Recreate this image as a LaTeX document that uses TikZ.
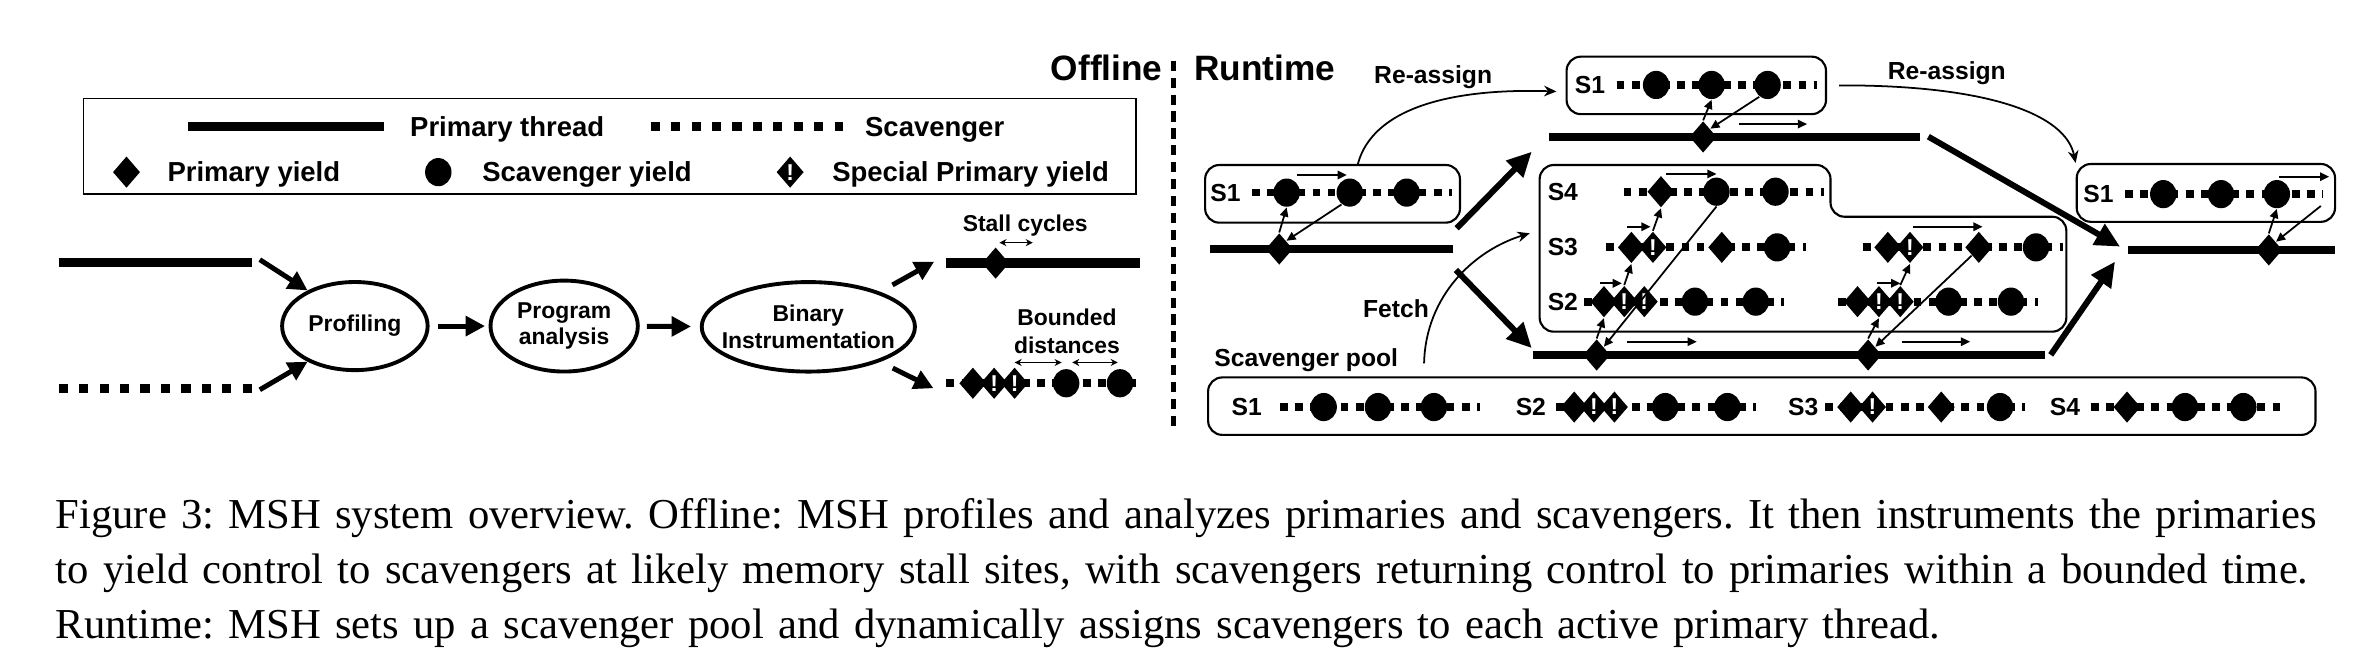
\documentclass[tikz,border=0pt]{standalone}
\usepackage{fontspec}
\setmainfont{Liberation Serif}
\setsansfont{Liberation Sans}
\usetikzlibrary{arrows.meta,shapes.geometric}

\begin{document}
\begin{tikzpicture}[x=0.4303pt, y=-0.4303pt,
    prim/.style={line width=2.4pt},
    primo/.style={line width=2.7pt},
    scav/.style={line width=2.2pt, dash pattern=on 2.2pt off 2.1pt},
    scavo/.style={line width=2.6pt, dash pattern=on 2.6pt off 3.2pt},
    pyield/.style={diamond, fill=black, inner sep=0pt, minimum width=7.8pt, minimum height=9pt},
    syield/.style={ellipse, fill=black, inner sep=0pt, minimum width=7.5pt, minimum height=8pt},
    spyield/.style={pyield, label={[text=white, inner sep=0pt, font=\sffamily\bfseries\fontsize{6.5pt}{6.5pt}\selectfont]center:!}},
    stage/.style={ellipse, draw, line width=1.1pt, inner sep=0pt},
    sbox/.style={draw, line width=0.6pt, rounded corners=4pt, inner sep=0pt},
    biglbl/.style={font=\sffamily\bfseries\fontsize{10pt}{12pt}\selectfont, inner sep=0pt},
    leglbl/.style={font=\sffamily\bfseries\fontsize{7.8pt}{9pt}\selectfont, inner sep=0pt, anchor=base west},
    smlbl/.style={font=\sffamily\bfseries\fontsize{6.5pt}{7.5pt}\selectfont, inner sep=0pt, align=center},
    rtlbl/.style={font=\sffamily\bfseries\fontsize{7pt}{8pt}\selectfont, inner sep=0pt},
    bigarr/.style={line width=1.4pt, -{Triangle[length=5.5pt, width=5.5pt]}},
    fatarr/.style={line width=1.7pt, -{Triangle[length=7pt, width=6.5pt]}},
    tarr/.style={line width=0.5pt, -{Triangle[length=2.6pt, width=2.4pt]}},
    curv/.style={line width=0.5pt, -{Stealth[length=3.5pt, width=3pt]}},
    dist/.style={line width=0.4pt, {Stealth[length=2pt, width=2pt]}-{Stealth[length=2pt, width=2pt]}}
  ]
  \useasboundingbox (0,0) rectangle (1568,437);

  % legend
  \draw[line width=0.5pt] (55,65) rectangle (749,128);
  \draw[primo] (124,83.3) -- (253,83.3);
  \node[leglbl] (kpt) at (270,89.8) {Primary thread};
  \draw[scavo] (429,83.3) -- (556,83.3);
  \node[leglbl] (kst) at (570,89.8) {Scavenger};
  \node[pyield] (kp) at (83.4,113.5) {};
  \node[leglbl] (kpl) at (110,120) {Primary yield};
  \node[syield] (ks) at (289,113.5) {};
  \node[leglbl] (ksl) at (317.6,120) {Scavenger yield};
  \node[spyield] (kx) at (521,113.5) {};
  \node[leglbl] (kxl) at (548.3,120) {Special Primary yield};

  % offline flow
  \coordinate (pin0) at (38.7,173.2);
  \coordinate (pin1) at (166.3,173.2);
  \coordinate (sin0) at (38.7,256);
  \coordinate (sin1) at (166.3,256);
  \draw[primo] (pin0) -- (pin1);
  \draw[scavo] (sin0) -- (sin1);
  \node[stage, minimum width=41.3pt, minimum height=25pt] (prof) at (234,215) {};
  \node[smlbl] (profl) at (prof) {Profiling};
  \node[stage, minimum width=41.8pt, minimum height=25.8pt] (prog) at (372,215) {};
  \node[smlbl] (progl) at (prog) {Program\\analysis};
  \node[stage, minimum width=60.5pt, minimum height=25.4pt] (bin) at (533,215.5) {};
  \node[smlbl] (binl) at (bin) {Binary\\Instrumentation};
  \draw[bigarr] ([shift={(5,-2)}]pin1) -- (prof.143);
  \draw[bigarr] ([shift={(5,1)}]sin1) -- (prof.217);
  \draw[bigarr, shorten <=2.5pt, shorten >=1pt] (prof) -- (prog);
  \draw[bigarr, shorten <=2pt, shorten >=2.5pt] (prog) -- (bin);

  \coordinate (pout0) at (624,173.5);
  \coordinate (pout1) at (752,173.5);
  \coordinate (sout0) at (624,252.7);
  \coordinate (sout1) at (752,252.7);
  \draw[bigarr, shorten <=4pt] (bin.26) -- ([shift={(-8,-1)}]pout0);
  \draw[bigarr, shorten <=4pt] (bin.-26) -- ([shift={(-8.5,3.3)}]sout0);
  \draw[primo] (pout0) -- (pout1);
  \node[pyield] (od) at (656.5,173.5) {};
  \node[smlbl, anchor=base] (stl) at (676,152.4) {Stall cycles};
  \coordinate (st0) at (659,160);
  \coordinate (st1) at (681,160);
  \draw[dist] (st0) -- (st1);
  \draw[scav] (sout0) -- (sout1);
  \node[pyield] (oa) at (641.5,252.7) {};
  \node[spyield] (ob) at (655.5,252.7) {};
  \node[spyield] (oc) at (669,252.7) {};
  \node[syield] (oe) at (703,252.7) {};
  \node[syield] (of) at (738.5,252.7) {};
  \node[smlbl, anchor=base] (bdl) at (703.5,214.4) {Bounded};
  \node[smlbl, anchor=base] (dsl) at (703.5,232.9) {distances};
  \coordinate (bd0) at (669,239);
  \coordinate (bd1) at (700,239);
  \coordinate (bd2) at (707,239);
  \coordinate (bd3) at (737,239);
  \draw[dist] (bd0) -- (bd1);
  \draw[dist] (bd2) -- (bd3);

  % divider
  \draw[line width=1.5pt, dash pattern=on 2.9pt off 1.9pt] (774,40) -- (774,282);
  \node[biglbl, anchor=east] (offl) at (767,45) {Offline};
  \node[biglbl, anchor=west] (runl) at (787,45) {Runtime};

  % runtime: left S1
  \node[sbox, minimum width=72.3pt, minimum height=16.35pt] (lbox) at (878.65,127.8) {};
  \node[rtlbl] (ls) at (808,127) {S1};
  \draw[scav] (825.5,127) -- (957.5,127);
  \node[syield] (la) at (848.4,127) {};
  \node[syield] (lb) at (890,127) {};
  \node[syield] (lc) at (927.5,127) {};
  \draw[prim] (798,164.2) -- (958,164.2);
  \node[pyield] (lp) at (843.5,164.2) {};
  \draw[tarr] (lp.north) -- (la.south);
  \draw[tarr] (lb.235) -- (lp.north east);
  \coordinate (lt0) at (855,115.4);
  \coordinate (lt1) at (888,115.4);
  \draw[tarr] (lt0) -- (lt1);

  % runtime: top S1
  \node[sbox, minimum width=73.6pt, minimum height=16.3pt] (tbox) at (1118.5,56.3) {};
  \node[rtlbl] (ts) at (1048.4,56) {S1};
  \draw[scav] (1066,56) -- (1198,56);
  \node[syield] (ta) at (1092,56) {};
  \node[syield] (tb) at (1128.6,56) {};
  \node[syield] (tc) at (1165.5,56) {};
  \draw[prim] (1021.5,90.3) -- (1266,90.3);
  \node[pyield] (tp) at (1123,90.3) {};
  \draw[tarr] (tp.north) -- (tb.south);
  \draw[tarr] (tc.235) -- (tp.north east);
  \coordinate (tt0) at (1146.6,81.8);
  \coordinate (tt1) at (1191.5,81.8);
  \draw[tarr] (tt0) -- (tt1);

  % runtime: S2-S4 group
  \draw[line width=0.6pt, rounded corners=4pt] (1015.2,108.8) -- (1207,108.8) -- (1207,142.9) -- (1362.5,142.9)
    -- (1362.5,218.7) -- (1015.2,218.7) -- cycle;
  \node[rtlbl] (s4) at (1030.5,126.4) {S4};
  \node[rtlbl] (s3) at (1030.5,163.1) {S3};
  \node[rtlbl] (s2) at (1030.5,198.9) {S2};
  \draw[scav] (1070.6,126.4) -- (1202.4,126.4);
  \node[pyield] (m4a) at (1095.2,126.4) {};
  \node[syield] (m4b) at (1131.8,126.4) {};
  \node[syield] (m4c) at (1170.7,126.4) {};
  \draw[scav] (1058.8,163.1) -- (1190.6,163.1);
  \node[pyield] (m3a) at (1075.7,163.1) {};
  \node[spyield] (m3b) at (1089.9,163.1) {};
  \node[pyield] (m3c) at (1135.3,163.1) {};
  \node[syield] (m3d) at (1171.8,163.1) {};
  \draw[scav] (1044.6,198.9) -- (1176.5,198.9);
  \node[pyield] (m2a) at (1057.6,198.9) {};
  \node[spyield] (m2b) at (1071,198.9) {};
  \node[spyield] (m2c) at (1084.2,198.9) {};
  \node[syield] (m2d) at (1117.6,198.9) {};
  \node[syield] (m2e) at (1157.7,198.9) {};
  \draw[scav] (1228.3,163.1) -- (1360.2,163.1);
  \node[pyield] (n3a) at (1244.8,163.1) {};
  \node[spyield] (n3b) at (1259.4,163.1) {};
  \node[pyield] (n3c) at (1304.8,163.1) {};
  \node[syield] (n3d) at (1342.5,163.1) {};
  \draw[scav] (1211.8,198.9) -- (1343.7,198.9);
  \node[pyield] (n2a) at (1224.8,198.9) {};
  \node[spyield] (n2b) at (1238.9,198.9) {};
  \node[spyield] (n2c) at (1253,198.9) {};
  \node[syield] (n2d) at (1284.8,198.9) {};
  \node[syield] (n2e) at (1326,198.9) {};
  \draw[prim] (1010.6,234.1) -- (1348.5,234.1);
  \node[pyield] (mp) at (1052.8,234.1) {};
  \node[pyield] (np) at (1231.8,234.1) {};
  \draw[tarr] (mp.north) -- (m2a.south);
  \draw[tarr] (m2b.north) -- (m3a.south);
  \draw[tarr] (m3b.north) -- (m4a.south);
  \draw[tarr] (m4b.south) -- (mp.north east);
  \draw[tarr] (np.north) -- (n2b.south);
  \draw[tarr] (n2c.north) -- (n3b.south);
  \draw[tarr] (n3c.south west) -- (np.north east);
  \coordinate (ma0) at (1055.3,186.8);
  \coordinate (ma1) at (1069.4,186.8);
  \coordinate (mb0) at (1072.8,149.5);
  \coordinate (mb1) at (1088.3,149.5);
  \coordinate (mc0) at (1098.8,114.7);
  \coordinate (mc1) at (1131.8,114.7);
  \coordinate (md0) at (1072.8,225.3);
  \coordinate (md1) at (1118.8,225.3);
  \coordinate (na0) at (1237.6,186.8);
  \coordinate (na1) at (1253,186.8);
  \coordinate (nb0) at (1261.3,149.5);
  \coordinate (nb1) at (1307.2,149.5);
  \coordinate (nd0) at (1254,225.3);
  \coordinate (nd1) at (1299,225.3);
  \draw[tarr] (ma0) -- (ma1);
  \draw[tarr] (mb0) -- (mb1);
  \draw[tarr] (mc0) -- (mc1);
  \draw[tarr] (md0) -- (md1);
  \draw[tarr] (na0) -- (na1);
  \draw[tarr] (nb0) -- (nb1);
  \draw[tarr] (nd0) -- (nd1);

  % runtime: right S1
  \node[sbox, minimum width=73.3pt, minimum height=16.4pt] (rbox) at (1454.5,127.2) {};
  \node[rtlbl] (rs) at (1383.7,128) {S1};
  \draw[scav] (1401.3,128) -- (1532,128);
  \node[syield] (ra) at (1426.4,128) {};
  \node[syield] (rb) at (1464.5,128) {};
  \node[syield] (rc) at (1501.3,128) {};
  \draw[prim] (1403.4,164.8) -- (1539.6,164.8);
  \node[pyield] (rp) at (1496,164.8) {};
  \coordinate (rr) at (1530.3,135.8);
  \draw[tarr] (rp.north) -- (rc.south);
  \draw[tarr] (rr) -- (rp.north east);
  \coordinate (rt0) at (1503,116.5);
  \coordinate (rt1) at (1535.8,116.5);
  \draw[tarr] (rt0) -- (rt1);

  % thick moves
  \coordinate (fa0) at (960.5,150.5);
  \coordinate (fa1) at (1010,100);
  \coordinate (fb0) at (960,178);
  \coordinate (fb1) at (1010,229.5);
  \coordinate (fc0) at (1271.5,90.1);
  \coordinate (fc1) at (1397.9,162.6);
  \coordinate (fd0) at (1352.2,234);
  \coordinate (fd1) at (1394.6,172.5);
  \draw[fatarr] (fa0) -- (fa1);
  \draw[fatarr] (fb0) -- (fb1);
  \draw[fatarr] (fc0) -- (fc1);
  \draw[fatarr] (fd0) -- (fd1);

  % re-assign and fetch
  \node[rtlbl, anchor=base] (ra1) at (945,55.2) {Re-assign};
  \node[rtlbl, anchor=base] (ra2) at (1283.7,52.7) {Re-assign};
  \draw[curv] ([shift={(16.7,0)}]lbox.north) .. controls (905,72) and (955,58) .. ([shift={(-6,4)}]tbox.west);
  \draw[curv] ([shift={(8,0)}]tbox.east) .. controls (1310,56) and (1362,75) .. (rbox.north west);
  \node[rtlbl] (fl) at (920.5,203.8) {Fetch};
  \node[rtlbl, anchor=base] (spl) at (861.3,241.8) {Scavenger pool};
  \coordinate (fe0) at (939,239.6);
  \coordinate (fe1) at (1008.7,153.8);
  \draw[curv] (fe0) .. controls (940,195) and (972,165) .. (fe1);

  % scavenger pool
  \node[sbox, minimum width=314.2pt, minimum height=16.3pt] (pbox) at (1161.7,267.8) {};
  \node[rtlbl] (q1) at (822,268.4) {S1};
  \draw[scav] (844,268.4) -- (976,268.4);
  \foreach \x [count=\i] in {872.8,908.6,945.5}
    \node[syield] (q1c\i) at (\x,268.4) {};
  \node[rtlbl] (q2) at (1009.4,268.4) {S2};
  \draw[scav] (1026,268.4) -- (1158,268.4);
  \node[pyield] (q2a) at (1038,268.4) {};
  \node[spyield] (q2b) at (1051,268.4) {};
  \node[spyield] (q2c) at (1064.5,268.4) {};
  \node[syield] (q2d) at (1098,268.4) {};
  \node[syield] (q2e) at (1139,268.4) {};
  \node[rtlbl] (q3) at (1189,268.4) {S3};
  \draw[scav] (1203.4,268.4) -- (1335,268.4);
  \node[pyield] (q3a) at (1220.3,268.4) {};
  \node[spyield] (q3b) at (1234.7,268.4) {};
  \node[pyield] (q3c) at (1280,268.4) {};
  \node[syield] (q3d) at (1318.8,268.4) {};
  \node[rtlbl] (q4) at (1361.6,268.4) {S4};
  \draw[scav] (1378.6,268.4) -- (1508,268.4);
  \node[pyield] (q4a) at (1402.5,268.4) {};
  \node[syield] (q4b) at (1440.7,268.4) {};
  \node[syield] (q4c) at (1479.2,268.4) {};

  % caption
  \node[anchor=north west, inner sep=0pt, text width=647pt, font=\fontsize{12.1pt}{15.6pt}\selectfont] (cap) at (36.3,328)
    {\noindent\frenchspacing Figure 3: MSH system overview. Offline: MSH profiles and analyzes primaries and scavengers. It then instruments the primaries\linebreak
     to yield control to scavengers at likely memory stall sites, with scavengers returning control to primaries within a bounded time.\linebreak
     Runtime: MSH sets up a scavenger pool and dynamically assigns scavengers to each active primary thread.};
\end{tikzpicture}
\end{document}
